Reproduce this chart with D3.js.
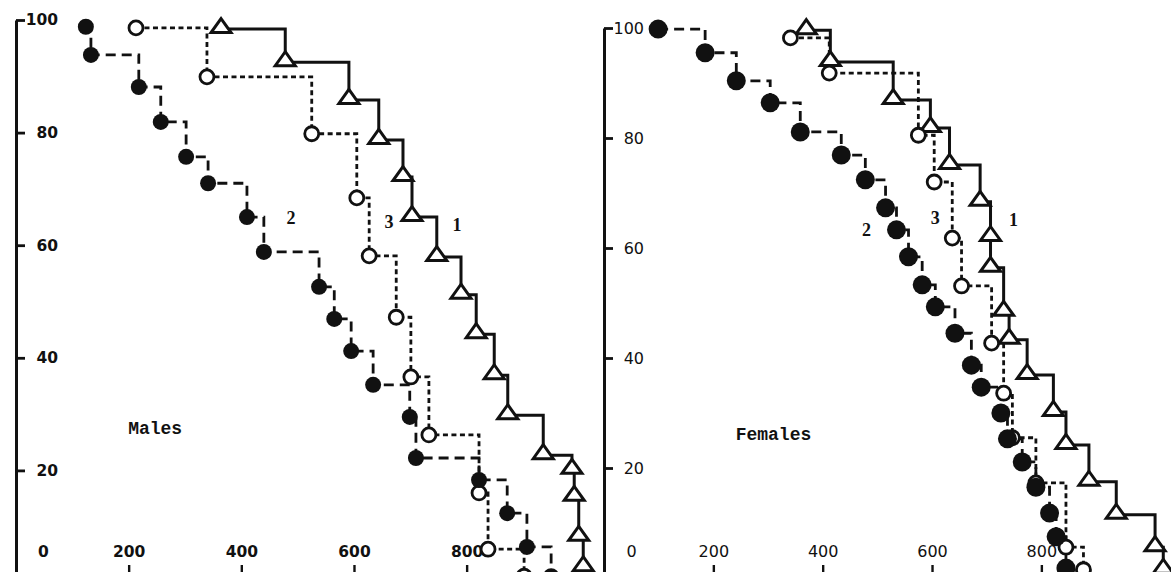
<!DOCTYPE html>
<html>
<head>
<meta charset="utf-8">
<script src="https://cdn.jsdelivr.net/npm/d3@7"></script>
<style>
  body { margin: 0; background: #fff; }
  svg { display: block; }
</style>
</head>
<body>
<div class="canva"></div>
<script>
var width = 1171;
var height = 572;

// axis ticks
const xTicks = [0, 200, 400, 600, 800];
const yTicks = [20, 40, 60, 80, 100];

// Males - curve 1 (triangles)
const malesT1 = [364, 478, 591, 644, 687, 703, 747, 790, 817, 849, 873, 936, 987, 991, 999, 1007];
const malesS1 = [98.4, 92.5, 85.8, 78.7, 72.1, 65.0, 57.9, 51.2, 44.2, 36.9, 29.8, 22.7, 20.1, 15.3, 8.2, 2.8];
// Males - curve 2 (filled circles)
const malesT2 = [124, 133, 218, 257, 302, 341, 410, 440, 538, 565, 595, 634, 699, 710, 822, 872, 907, 950];
const malesS2 = [98.8, 93.8, 88.1, 81.9, 75.7, 71.0, 65.0, 58.8, 52.6, 46.9, 41.2, 35.2, 29.5, 22.2, 18.3, 12.4, 6.4, 1.2];
// Males - curve 3 (open circles)
const malesT3 = [213, 339, 525, 605, 627, 675, 701, 733, 822, 838, 902];
const malesS3 = [98.6, 89.9, 79.8, 68.4, 58.1, 47.2, 36.6, 26.3, 16.0, 6.0, 1.2];

// Females - curve 1 (triangles)
const femT1 = [370, 414, 529, 597, 632, 688, 707, 707, 731, 741, 774, 822, 845, 887, 937, 1008, 1023];
const femS1 = [99.6, 93.8, 86.9, 81.8, 75.1, 68.4, 62.0, 56.4, 48.4, 43.3, 36.9, 30.2, 24.2, 17.5, 11.5, 5.6, 1.5];
// Females - curve 2 (filled circles)
const femT2 = [99, 185, 242, 304, 359, 434, 478, 515, 535, 557, 582, 606, 642, 672, 690, 726, 738, 765, 790, 815, 827, 845];
const femS2 = [99.8, 95.5, 90.4, 86.4, 81.1, 76.9, 72.4, 67.3, 63.3, 58.4, 53.3, 49.3, 44.5, 38.7, 34.7, 30.0, 25.3, 21.1, 16.5, 11.8, 7.5, 1.8];
// Females - curve 3 (open circles)
const femT3 = [341, 412, 575, 604, 637, 654, 709, 731, 747, 790, 845, 877];
const femS3 = [98.2, 91.8, 80.5, 72.0, 61.8, 53.1, 42.7, 33.6, 25.5, 17.3, 5.6, 1.5];

// curve labels [text, time, percent]
const malesLabels = [['2', 488, 64.8], ['3', 662, 64.1], ['1', 783, 63.6]];
const femLabels = [['2', 480, 63.3], ['3', 606, 65.5], ['1', 749, 65.1]];

const ink = '#111';

const svg = d3.select('.canva').append('svg')
  .attr('width', width)
  .attr('height', height);

function zip(ts, ss) { return ts.map((t, i) => ({t: t, s: ss[i]})); }

const tri = 'M0,-10.5L10,3.5L-10,3.5Z';

function panel(p) {
  const x = d3.scaleLinear().domain([0, 1000]).range(p.xr);
  const y = d3.scaleLinear().domain([0, 100]).range(p.yr);
  const g = svg.append('g');

  // y axis, ticks inward
  const ya = g.append('g')
    .attr('transform', `translate(${x(0)},0)`)
    .call(d3.axisRight(y).tickValues(yTicks).tickSize(9).tickSizeOuter(0).tickFormat(d3.format('d')));
  ya.attr('font-family', 'DejaVu Sans').attr('font-size', p.fs).attr('font-weight', p.fw);
  ya.select('.domain').attr('stroke', ink).attr('stroke-width', 3);
  ya.selectAll('.tick line').attr('stroke', ink).attr('stroke-width', 2.8);
  ya.selectAll('.tick text').attr('x', p.labelX).attr('text-anchor', 'end').attr('fill', ink);

  // x axis sits just below the picture, labels above it
  const xa = g.append('g')
    .attr('transform', `translate(0,${y(0)})`)
    .call(d3.axisTop(x).tickValues(xTicks).tickSize(p.xTick).tickPadding(8).tickSizeOuter(0));
  xa.attr('font-family', 'DejaVu Sans').attr('font-size', p.fs).attr('font-weight', p.fw);
  xa.select('.domain').attr('stroke', ink).attr('stroke-width', 2.6);
  xa.selectAll('.tick line').attr('stroke', ink).attr('stroke-width', 2.4);
  xa.selectAll('.tick text').attr('fill', ink).filter(d => d === 0).attr('dx', 27);

  const line = d3.line().x(d => x(d.t)).y(d => y(d.s)).curve(d3.curveStepAfter);

  const c1 = zip(p.t1, p.s1), c2 = zip(p.t2, p.s2), c3 = zip(p.t3, p.s3);

  g.append('path').datum(c1).attr('d', line)
    .attr('fill', 'none').attr('stroke', ink).attr('stroke-width', 3);
  g.append('path').datum(c2).attr('d', line)
    .attr('fill', 'none').attr('stroke', ink).attr('stroke-width', 2.8).attr('stroke-dasharray', '10,6');
  g.append('path').datum(c3).attr('d', line)
    .attr('fill', 'none').attr('stroke', ink).attr('stroke-width', 2.8).attr('stroke-dasharray', '5,3.5');

  g.selectAll('.tri').data(c1).enter().append('path')
    .attr('transform', d => `translate(${x(d.t)},${y(d.s)})`)
    .attr('d', tri)
    .attr('fill', '#fff').attr('stroke', ink).attr('stroke-width', 3);

  g.selectAll('.open').data(c3).enter().append('circle')
    .attr('cx', d => x(d.t)).attr('cy', d => y(d.s)).attr('r', 7)
    .attr('fill', '#fff').attr('stroke', ink).attr('stroke-width', 2.8);

  g.selectAll('.dot').data(c2).enter().append('circle')
    .attr('cx', d => x(d.t)).attr('cy', d => y(d.s)).attr('r', p.r)
    .attr('fill', ink);

  g.selectAll('.lab').data(p.labels).enter().append('text')
    .attr('x', d => x(d[1])).attr('y', d => y(d[2]))
    .attr('text-anchor', 'middle').attr('dominant-baseline', 'central')
    .attr('font-family', 'Liberation Serif').attr('font-weight', 'bold').attr('font-size', 18)
    .attr('fill', ink)
    .text(d => d[0]);

  g.append('text')
    .attr('x', x(p.title[1])).attr('y', y(p.title[2]))
    .attr('text-anchor', 'middle').attr('dominant-baseline', 'central')
    .attr('font-family', 'Liberation Mono').attr('font-weight', 'bold').attr('font-size', 18)
    .attr('fill', ink)
    .text(p.title[0]);
}

panel({
  xr: [16, 579.3], yr: [583, 20], labelX: 42, xTick: 18, fs: 15.5, fw: 'bold', r: 8,
  t1: malesT1, s1: malesS1, t2: malesT2, s2: malesS2, t3: malesT3, s3: malesS3,
  labels: malesLabels, title: ['Males', 247, 27.4]
});

panel({
  xr: [604, 1150.7], yr: [578, 28], labelX: 40, xTick: 13, fs: 16, fw: 'normal', r: 9.5,
  t1: femT1, s1: femS1, t2: femT2, s2: femS2, t3: femT3, s3: femS3,
  labels: femLabels, title: ['Females', 310, 26]
});
</script>
</body>
</html>
